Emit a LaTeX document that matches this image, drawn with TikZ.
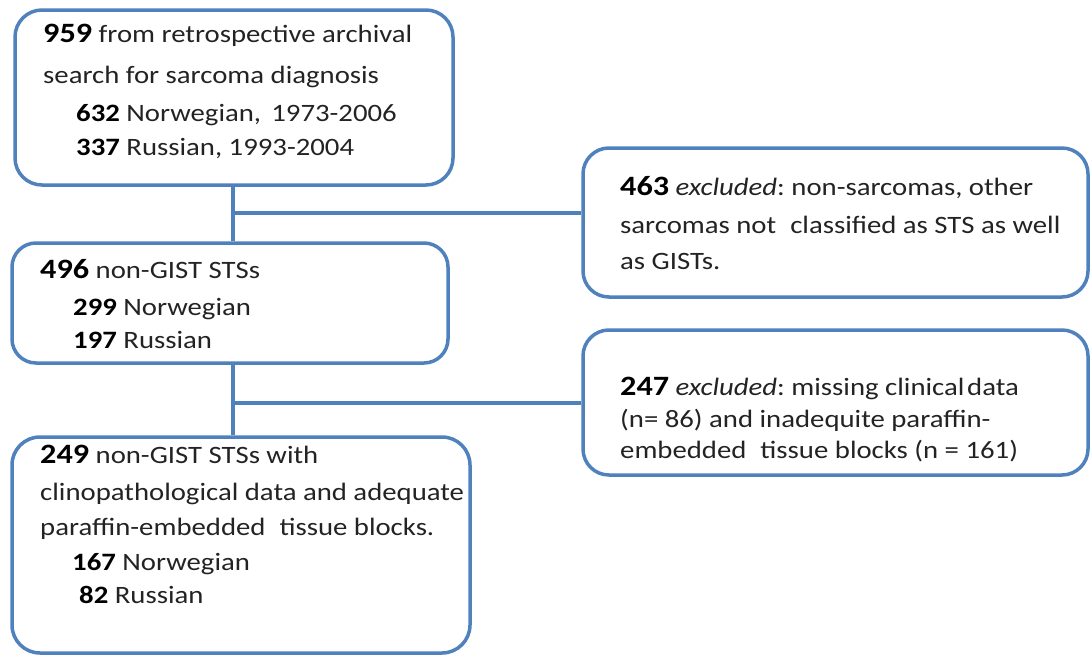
\documentclass[tikz,border=0pt]{standalone}
\usepackage{fontspec}
\setmainfont{Carlito}[FakeStretch=1.15]
\frenchspacing
\definecolor{boxblue}{RGB}{79,129,189}
\definecolor{txtgray}{RGB}{35,35,35}
\newcommand\leadnum[1]{{\fontsize{28}{30}\selectfont\bfseries\color{black}#1}}
\newcommand\subnum[1]{{\bfseries\color{black}#1}}
\begin{document}
\begin{tikzpicture}[x=1pt,y=-1pt,
  box/.style={draw=boxblue, line width=3.5pt, rounded corners=27pt, inner sep=0pt},
  txt/.style={anchor=base west, inner sep=0pt, text=txtgray, font=\fontsize{25}{28}\selectfont},
  link/.style={draw=boxblue, line width=3.5pt}]
\useasboundingbox (0,0) rectangle (1090,656);
% boxes
\node[box, minimum width=438pt, minimum height=175pt] (b1) at (234,97.5) {};
\node[box, minimum width=436pt, minimum height=120pt, rounded corners=24pt] (b2) at (230,303) {};
\node[box, minimum width=458pt, minimum height=216pt, rounded corners=28pt] (b3) at (241,545) {};
\node[box, minimum width=505pt, minimum height=149pt, rounded corners=26pt] (r1) at (835.5,222.5) {};
\node[box, minimum width=505pt, minimum height=145pt, rounded corners=26pt] (r2) at (835.5,402.5) {};
% connectors
\coordinate (j1) at (233,213);
\coordinate (j2) at (233,403);
\draw[link] (j1 |- b1.south) -- (j1 |- b2.north);
\draw[link] (j1) -- (j1 -| r1.west);
\draw[link] (j2 |- b2.south) -- (j2 |- b3.north);
\draw[link] (j2) -- (j2 -| r2.west);
% texts box 1
\node[txt] (t1a) at (43,42) {\leadnum{959} from retrospective archival};
\node[txt] (t1b) at (43,83) {search for sarcoma diagnosis};
\node[txt] (t1c) at (76,121) {\subnum{632} Norwegian,\hspace{0.15em} 1973-2006};
\node[txt] (t1d) at (76,155) {\subnum{337} Russian, 1993-2004};
% texts box 2
\node[txt] (t2a) at (40,278) {\leadnum{496} non-GIST STSs};
\node[txt] (t2b) at (73,315) {\subnum{299} Norwegian};
\node[txt] (t2c) at (73,348) {\subnum{197} Russian};
% texts box 3
\node[txt] (t3a) at (40,463) {\leadnum{249} non-GIST STSs with};
\node[txt] (t3b) at (40,500) {clinopathological data and adequate};
\node[txt] (t3c) at (40,535) {paraffin-embedded\hspace{0.3em} tissue blocks.};
\node[txt] (t3d) at (72,570) {\subnum{167} Norwegian};
\node[txt] (t3e) at (79,603) {\subnum{82} Russian};
% texts right 1
\node[txt] (t4a) at (620,195) {\leadnum{463} \textit{excluded}: non-sarcomas, other};
\node[txt] (t4b) at (620,233) {sarcomas not\hspace{0.3em} classified as STS as well};
\node[txt] (t4c) at (620,269) {as GISTs.};
% texts right 2
\node[txt] (t5a) at (620,395) {\leadnum{247} \textit{excluded}: missing clinical\hspace{-0.15em} data};
\node[txt] (t5b) at (620,427) {(n= 86) and inadequite paraffin-};
\node[txt] (t5c) at (620,458) {embedded\hspace{0.3em} tissue blocks (n = 161)};
\end{tikzpicture}
\end{document}
